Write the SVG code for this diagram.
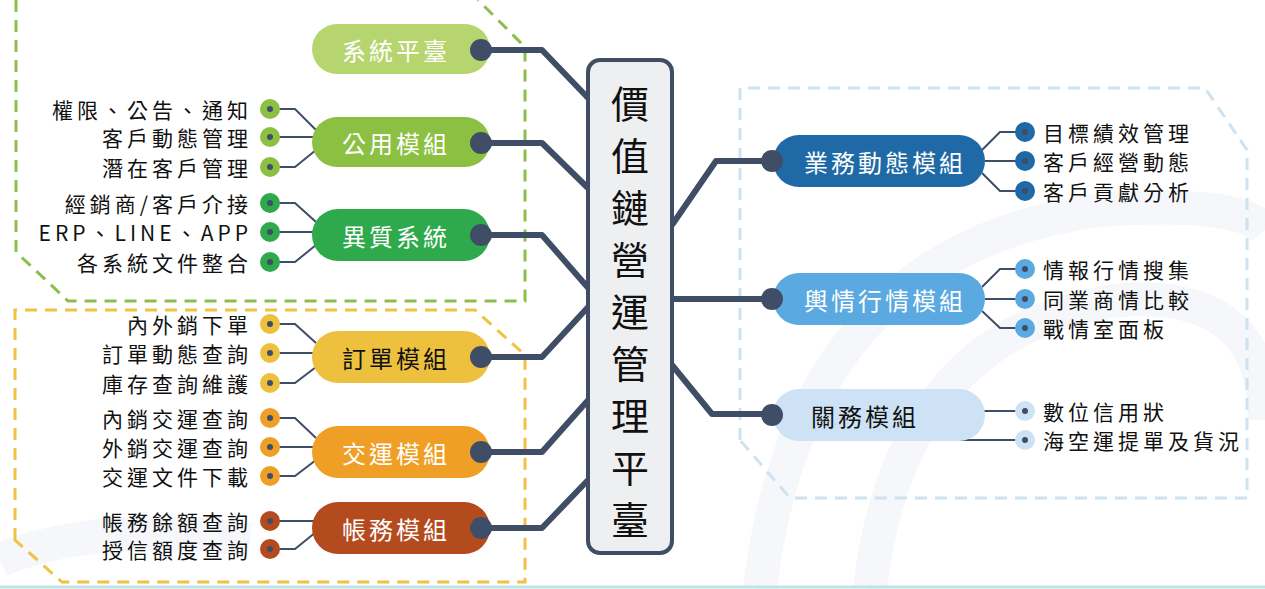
<svg xmlns="http://www.w3.org/2000/svg" width="1265" height="589" viewBox="0 0 1265 589">
<style>
text{font-family:"Noto Sans CJK TC","Noto Sans CJK SC",sans-serif;}
.sub{font-size:21px;fill:#111;letter-spacing:4px}
.pt{font-size:24px;letter-spacing:3px;text-anchor:middle;dominant-baseline:central}
.c{fill:none;stroke:#3f4e66;stroke-width:6;stroke-linejoin:round}
.s{fill:none;stroke:#3f4e66;stroke-width:2}
.d{fill:#3f4e66}
</style>
<rect width="1265" height="589" fill="#fff"/>
<g fill="none" stroke="#f5f7fb" stroke-width="34">
<path d="M870 589 Q900 330 1120 300 Q1265 290 1265 420"/>
<path d="M760 589 Q800 250 1100 210 Q1240 200 1265 230"/>
<path d="M0 560 Q100 520 250 540"/>
</g>
<line x1="0" y1="587" x2="1265" y2="587" stroke="#bfe3e6" stroke-width="3"/>
<g fill="none" stroke-width="3" stroke-dasharray="12 8">
<path d="M16 0 V252 L68 301 H525 V47 L478 0" stroke="#8cbf4a"/>
<path d="M15 540 V310 H475 L525 355 V582 H62 Z" stroke="#f0c242"/>
<path d="M740 440 V88 H1205 L1247 150 V498 H790 Z" stroke="#cfe2f0"/>
</g>
<g id="connectors">
<path class="c" d="M481 50 H542 L590 100"/>
<path class="c" d="M481 143 H542 L590 190"/>
<path class="c" d="M481 235 H542 L590 290"/>
<path class="c" d="M481 357 H542 L590 305"/>
<path class="c" d="M481 452 H542 L590 398"/>
<path class="c" d="M481 528 H542 L590 478"/>
<path class="c" d="M672 225 L716 161 H770"/>
<path class="c" d="M672 299 H770"/>
<path class="c" d="M672 365 L712 414 H770"/>
<path class="s" d="M270 109 H295 L316 130 M270 137 H316 M270 167 H295 L316 150"/>
<path class="s" d="M270 203 H295 L316 222 M270 232 H316 M270 262 H295 L316 245"/>
<path class="s" d="M270 324 H295 L316 343 M270 353 H316 M270 383 H295 L316 367"/>
<path class="s" d="M270 418 H295 L316 438 M270 447 H316 M270 476 H295 L316 460"/>
<path class="s" d="M270 521 H316 M270 549 H295 L316 532"/>
<path class="s" d="M1025 132 H1000 L982 150 M1025 161 H985 M1025 191 H1000 L982 173"/>
<path class="s" d="M1025 269 H1000 L982 287 M1025 299 H985 M1025 328 H1000 L982 311"/>
<path class="s" d="M1025 411 H925 L953 440 H1025"/>
</g>
<g id="center">
<rect x="588" y="60" width="84" height="493" rx="12" fill="#eeeff1" stroke="#3f4e66" stroke-width="4"/>
<g font-size="38" text-anchor="middle" fill="#111">
<text x="630" y="118">價</text><text x="630" y="170">值</text><text x="630" y="222">鏈</text>
<text x="630" y="274">營</text><text x="630" y="326">運</text><text x="630" y="378">管</text>
<text x="630" y="430">理</text><text x="630" y="482">平</text><text x="630" y="534">臺</text>
</g>
</g>
<g id="n1"><rect x="312" y="24" width="178" height="50" rx="25" fill="#b6d56e"/><text class="pt" x="396" y="49" fill="#fff">系統平臺</text><circle class="d" cx="481" cy="50" r="11"/></g>
<g id="n2"><rect x="312" y="117" width="178" height="50" rx="25" fill="#8cc043"/><text class="pt" x="396" y="142" fill="#fff">公用模組</text><circle class="d" cx="481" cy="143" r="11"/></g>
<g id="n3"><rect x="312" y="209" width="178" height="52" rx="26" fill="#2ea94b"/><text class="pt" x="396" y="235" fill="#fff">異質系統</text><circle class="d" cx="481" cy="235" r="11"/></g>
<g id="n4"><rect x="312" y="331" width="178" height="52" rx="26" fill="#edc13d"/><text class="pt" x="396" y="357" fill="#111">訂單模組</text><circle class="d" cx="481" cy="357" r="11"/></g>
<g id="n5"><rect x="312" y="426" width="178" height="52" rx="26" fill="#ef9f25"/><text class="pt" x="396" y="452" fill="#fff">交運模組</text><circle class="d" cx="481" cy="452" r="11"/></g>
<g id="n6"><rect x="312" y="502" width="178" height="52" rx="26" fill="#b44b1f"/><text class="pt" x="396" y="528" fill="#fff">帳務模組</text><circle class="d" cx="481" cy="528" r="11"/></g>
<g id="n7"><rect x="773" y="135" width="212" height="52" rx="26" fill="#1f6aa6"/><text class="pt" x="885" y="161" fill="#fff">業務動態模組</text><circle class="d" cx="772" cy="161" r="11"/></g>
<g id="n8"><rect x="773" y="273" width="212" height="52" rx="26" fill="#5aa9e1"/><text class="pt" x="885" y="299" fill="#fff">輿情行情模組</text><circle class="d" cx="772" cy="299" r="11"/></g>
<g id="n9"><rect x="773" y="389" width="212" height="52" rx="26" fill="#cde3f5"/><text class="pt" x="865" y="415" fill="#111">關務模組</text><circle class="d" cx="772" cy="415" r="11"/></g>
<g id="subs-left">
<g fill="#8cc043"><circle cx="270" cy="109" r="10"/><circle cx="270" cy="137" r="10"/><circle cx="270" cy="167" r="10"/></g>
<g fill="#2ea94b"><circle cx="270" cy="203" r="10"/><circle cx="270" cy="232" r="10"/><circle cx="270" cy="262" r="10"/></g>
<g fill="#edc13d"><circle cx="270" cy="324" r="10"/><circle cx="270" cy="353" r="10"/><circle cx="270" cy="383" r="10"/></g>
<g fill="#ef9f25"><circle cx="270" cy="418" r="10"/><circle cx="270" cy="447" r="10"/><circle cx="270" cy="476" r="10"/></g>
<g fill="#b44b1f"><circle cx="270" cy="521" r="10"/><circle cx="270" cy="549" r="10"/></g>
<g class="d"><circle cx="270" cy="109" r="3"/><circle cx="270" cy="137" r="3"/><circle cx="270" cy="167" r="3"/><circle cx="270" cy="203" r="3"/><circle cx="270" cy="232" r="3"/><circle cx="270" cy="262" r="3"/><circle cx="270" cy="324" r="3"/><circle cx="270" cy="353" r="3"/><circle cx="270" cy="383" r="3"/><circle cx="270" cy="418" r="3"/><circle cx="270" cy="447" r="3"/><circle cx="270" cy="476" r="3"/><circle cx="270" cy="521" r="3"/><circle cx="270" cy="549" r="3"/></g>
<g class="sub" text-anchor="end" dominant-baseline="central">
<text x="252" y="109">權限、公告、通知</text><text x="252" y="137">客戶動態管理</text><text x="252" y="167">潛在客戶管理</text>
<text x="252" y="203">經銷商/客戶介接</text><text x="252" y="232">ERP、LINE、APP</text><text x="252" y="262">各系統文件整合</text>
<text x="252" y="324">內外銷下單</text><text x="252" y="353">訂單動態查詢</text><text x="252" y="383">庫存查詢維護</text>
<text x="252" y="418">內銷交運查詢</text><text x="252" y="447">外銷交運查詢</text><text x="252" y="476">交運文件下載</text>
<text x="252" y="521">帳務餘額查詢</text><text x="252" y="549">授信額度查詢</text>
</g>
</g>
<g id="subs-right">
<g fill="#1f6aa6"><circle cx="1025" cy="132" r="10"/><circle cx="1025" cy="161" r="10"/><circle cx="1025" cy="191" r="10"/></g>
<g fill="#5aa9e1"><circle cx="1025" cy="269" r="10"/><circle cx="1025" cy="299" r="10"/><circle cx="1025" cy="328" r="10"/></g>
<g fill="#cde3f5"><circle cx="1025" cy="411" r="10"/><circle cx="1025" cy="440" r="10"/></g>
<g class="d"><circle cx="1025" cy="132" r="3"/><circle cx="1025" cy="161" r="3"/><circle cx="1025" cy="191" r="3"/><circle cx="1025" cy="269" r="3"/><circle cx="1025" cy="299" r="3"/><circle cx="1025" cy="328" r="3"/><circle cx="1025" cy="411" r="3"/><circle cx="1025" cy="440" r="3"/></g>
<g class="sub" dominant-baseline="central">
<text x="1043" y="132">目標績效管理</text><text x="1043" y="161">客戶經營動態</text><text x="1043" y="191">客戶貢獻分析</text>
<text x="1043" y="269">情報行情搜集</text><text x="1043" y="299">同業商情比較</text><text x="1043" y="328">戰情室面板</text>
<text x="1043" y="411">數位信用狀</text><text x="1043" y="440">海空運提單及貨況</text>
</g>
</g>
</svg>
